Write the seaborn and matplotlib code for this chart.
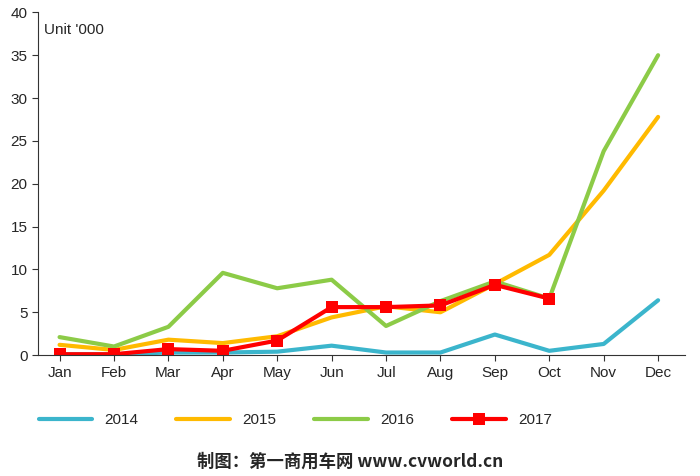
import matplotlib
matplotlib.use("Agg")
import matplotlib.pyplot as plt
import seaborn as sns
import pandas as pd

months = ["Jan","Feb","Mar","Apr","May","Jun","Jul","Aug","Sep","Oct","Nov","Dec"]
s2014 = [0.1,0.1,0.3,0.3,0.4,1.1,0.3,0.3,2.4,0.5,1.3,6.4]
s2015 = [1.2,0.6,1.8,1.4,2.2,4.4,5.7,5.0,8.3,11.7,19.2,27.8]
s2016 = [2.1,1.0,3.3,9.6,7.8,8.8,3.4,6.3,8.6,6.6,23.8,35.0]
s2017 = [0.1,0.1,0.7,0.5,1.7,5.6,5.6,5.8,8.2,6.6]

sns.set_style("white")
plt.rcParams['font.family'] = ['Liberation Sans', 'Noto Sans CJK SC', 'DejaVu Sans']

fig = plt.figure(figsize=(7, 4.76), dpi=100)
ax = fig.add_axes([0.054, 0.254, 0.925, 0.72])

x = list(range(12))
sns.lineplot(x=x, y=s2014, ax=ax, color="#3BB5CC", lw=3, label="2014")
sns.lineplot(x=x, y=s2015, ax=ax, color="#FFBA00", lw=3, label="2015")
sns.lineplot(x=x, y=s2016, ax=ax, color="#8CCB47", lw=3, label="2016")
sns.lineplot(x=x[:len(s2017)], y=s2017, ax=ax, color="#FF0000", lw=3, marker="s",
             markersize=9, markeredgewidth=0, label="2017")

ax.set_xlim(-0.4, 11.5)
ax.set_ylim(0, 40)
ax.set_yticks(range(0, 45, 5))
ax.set_xticks(x)
ax.set_xticklabels(months)
ax.tick_params(axis='both', labelsize=11, direction='out', length=4, color='#333', left=True, bottom=True)
for s in ["top", "right"]:
    ax.spines[s].set_visible(False)
for s in ["left", "bottom"]:
    ax.spines[s].set_color("#333")
ax.text(0.01, 0.97, "Unit '000", transform=ax.transAxes, fontsize=11, va="top")

ax.legend(loc="upper left", bbox_to_anchor=(-0.02, -0.13), ncol=4, frameon=False,
          fontsize=11, handlelength=3.5, columnspacing=2.5)

fig.text(0.5, 0.02, "制图：第一商用车网 www.cvworld.cn", ha="center", fontsize=12.5,
         fontweight="bold", family=['Noto Sans CJK SC', 'DejaVu Sans'])
fig.savefig("out.png", dpi=100)
